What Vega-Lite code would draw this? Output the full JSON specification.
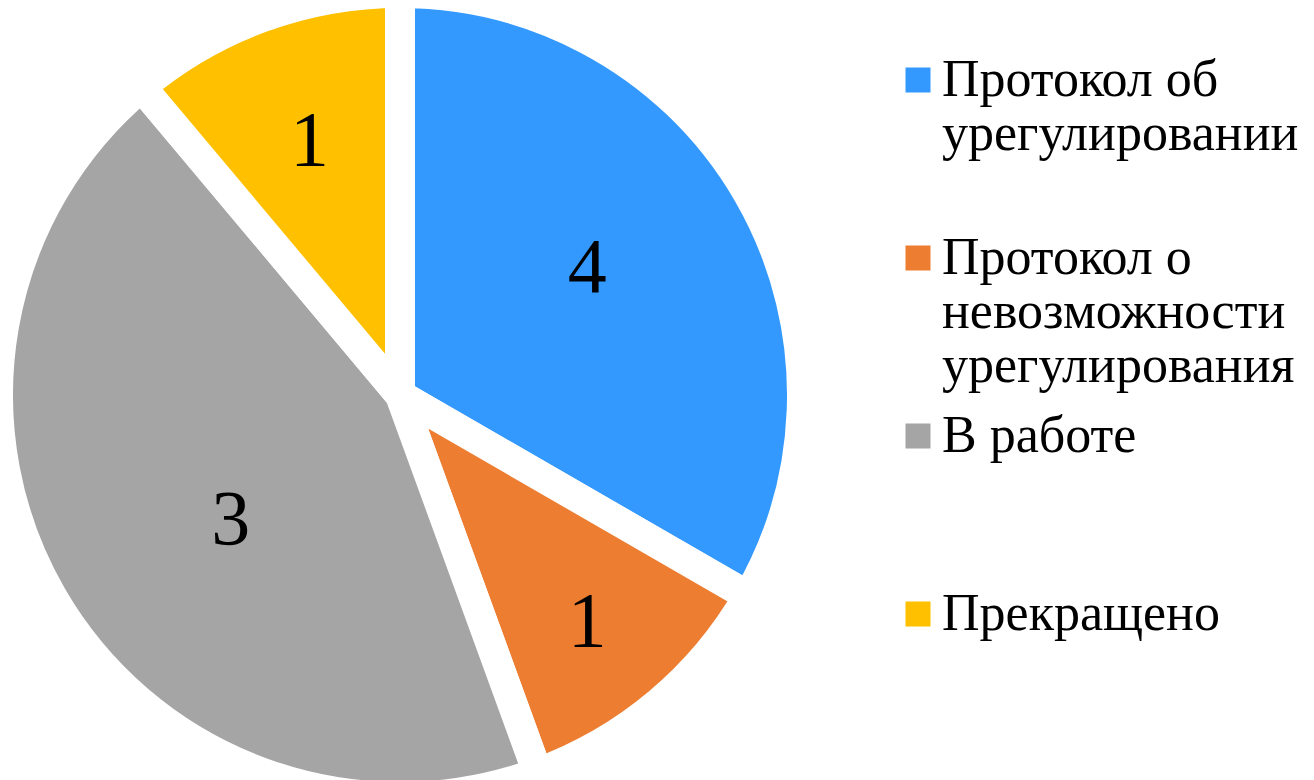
{
  "$schema": "https://vega.github.io/schema/vega-lite/v6.json",
  "width": 800,
  "height": 790,
  "autosize": {"type": "none"},
  "padding": {"left": 0, "top": 0, "right": 514, "bottom": 0},
  "background": "white",
  "config": {"view": {"stroke": null}},
  "data": {
    "values": [
      {"status": "Протокол об урегулировании", "value": 3, "label": "4", "rank": 1},
      {"status": "Протокол о невозможности урегулирования", "value": 1, "label": "1", "rank": 2},
      {"status": "В работе", "value": 4, "label": "3", "rank": 3},
      {"status": "Прекращено", "value": 1, "label": "1", "rank": 4}
    ]
  },
  "encoding": {
    "theta": {"field": "value", "type": "quantitative", "stack": true},
    "order": {"field": "rank", "type": "quantitative"}
  },
  "layer": [
    {
      "mark": {"type": "arc", "outerRadius": 402, "stroke": "white", "strokeWidth": 30, "strokeJoin": "miter"},
      "encoding": {
        "color": {
          "field": "status",
          "type": "nominal",
          "scale": {
            "domain": ["Протокол об урегулировании", "Протокол о невозможности урегулирования", "В работе", "Прекращено"],
            "range": ["#3399FF", "#ED7D31", "#A5A5A5", "#FFC000"]
          },
          "legend": {
            "title": null,
            "orient": "none",
            "legendX": 892,
            "legendY": 54,
            "padding": 0,
            "symbolType": "square",
            "symbolSize": 625,
            "symbolStrokeWidth": 0,
            "labelFont": "Liberation Serif",
            "labelFontSize": 52,
            "labelLineHeight": 55,
            "labelColor": "black",
            "labelLimit": 1000,
            "labelOffset": -2,
            "labelBaseline": "middle",
            "rowPadding": 18,
            "labelExpr": "datum.label == 'Протокол об урегулировании' ? ['Протокол об', 'урегулировании', ''] : datum.label == 'Протокол о невозможности урегулирования' ? ['Протокол о', 'невозможности', 'урегулирования'] : [datum.label, '', '']"
          }
        }
      }
    },
    {
      "mark": {"type": "text", "radius": 218, "thetaOffset": -0.09, "dx": 9, "font": "Liberation Serif", "fontSize": 78, "color": "black"},
      "encoding": {
        "text": {"condition": {"test": "datum.value > 1", "field": "label", "type": "nominal"}, "value": ""}
      }
    },
    {
      "mark": {"type": "text", "radius": 282, "dy": 12, "dx": 6, "font": "Liberation Serif", "fontSize": 78, "color": "black"},
      "encoding": {
        "text": {"condition": {"test": "datum.value <= 1", "field": "label", "type": "nominal"}, "value": ""}
      }
    }
  ]
}
